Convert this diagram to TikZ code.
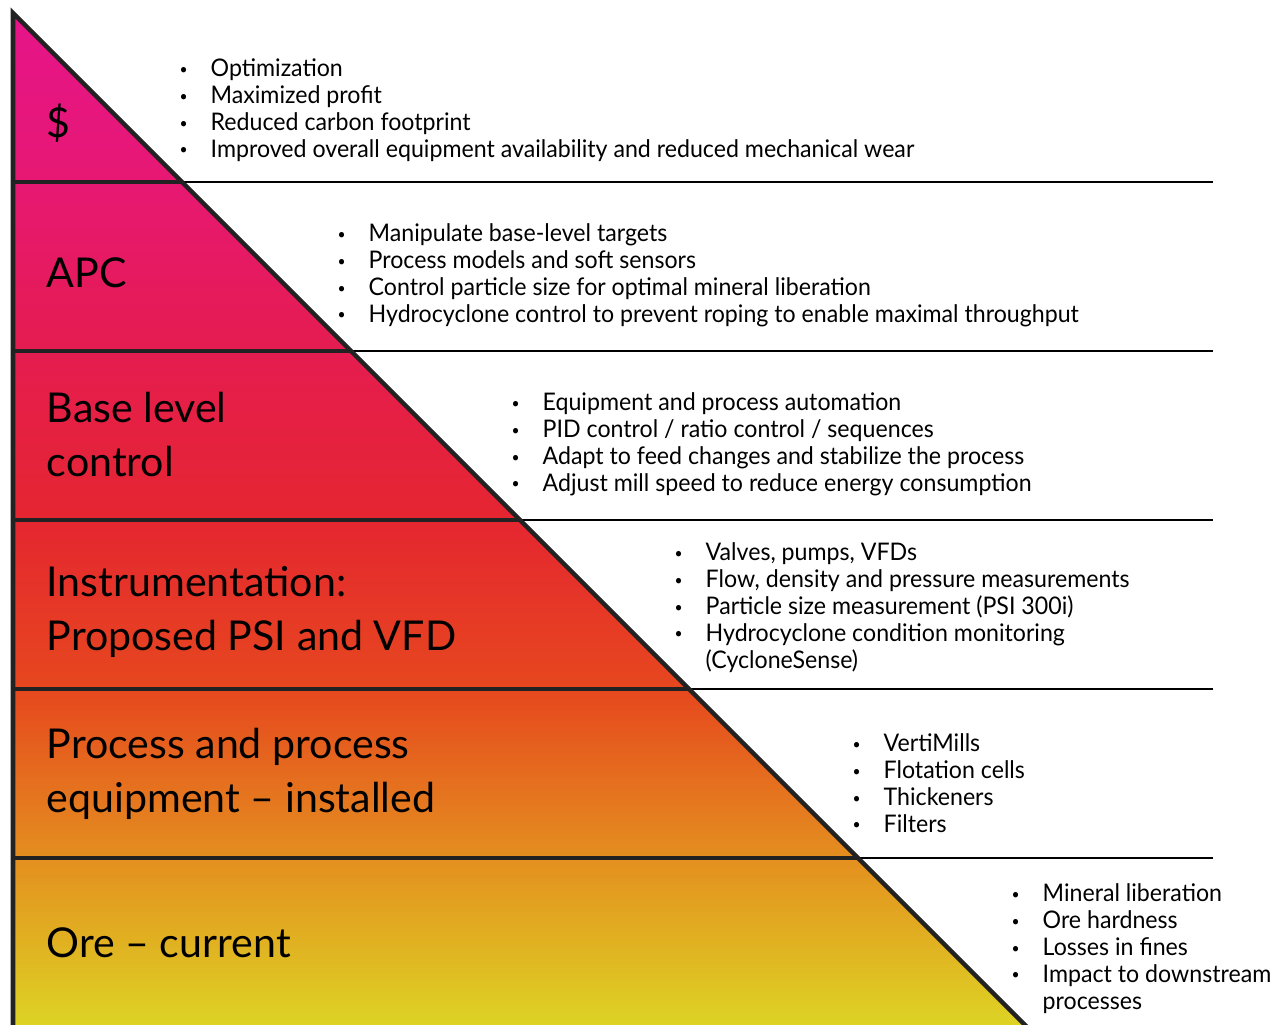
\documentclass[tikz,border=0pt]{standalone}
\usepackage{fontspec}
\setmainfont{Lato}
\newfontfamily\factfont[FakeStretch=0.955]{Lato}
\definecolor{pyrA}{HTML}{DDD324}
\definecolor{pyrB}{HTML}{E4901F}
\definecolor{pyrC}{HTML}{E6481E}
\definecolor{pyrD}{HTML}{E52630}
\definecolor{pyrE}{HTML}{E51C50}
\definecolor{pyrF}{HTML}{E61873}
\definecolor{pyrG}{HTML}{E6148A}
\definecolor{rimgray}{HTML}{222222}
% tikz fits the middle 25bp--75bp of the shading to the path
\pgfdeclareverticalshading{pyramid}{100bp}{color(0bp)=(pyrA); color(25bp)=(pyrA);
  color(33.15bp)=(pyrB); color(41.55bp)=(pyrC); color(49.95bp)=(pyrD); color(58.35bp)=(pyrE);
  color(66.75bp)=(pyrF); color(75bp)=(pyrG); color(100bp)=(pyrG)}
\newcommand{\rows}[1]{\begin{tabular}[t]{@{}l@{}}#1\end{tabular}}
\newcommand{\itm}{\llap{\makebox[5.4mm][c]{\raisebox{0.1em}{\scalebox{0.6}{\textbullet}}}}}
\tikzset{
  tier/.style={anchor=base west,inner sep=0pt,font=\fontsize{11.7}{15.1}\selectfont},
  facts/.style={anchor=base west,inner sep=0pt,font=\factfont\fontsize{6.9}{7.62}\selectfont},
  rim/.style={draw=rimgray,line width=1.3pt,line join=miter},
  split/.style={draw=rimgray,line width=1.1pt},
  rule/.style={draw=black,line width=0.6pt}
}

\begin{document}
\begin{tikzpicture}[x=0.1mm,y=-0.1mm]
  \useasboundingbox (0,0) rectangle (1271,1025);
  \clip (0,0) rectangle (1271,1025);
  \coordinate (apex) at (13,13);
  \coordinate (heel) at (13,1040);
  \coordinate (toe) at (1040,1040);
  \shade[shading=pyramid] (13,13) -- (13,1025) -- (1025,1025) -- cycle;
  \foreach \y/\n in {182/1,351/2,520/3,689/4,858/5}{
    \coordinate (l\n) at (13,\y);
    \coordinate (m\n) at (\y,\y);
    \coordinate (r\n) at (1213,\y);
    \draw[split] (l\n) -- (m\n);
    \draw[rule] (m\n) -- (r\n);
  }
  \draw[rim] (heel) -- (apex) -- (toe);
  \node[tier] (dollar) at (46,138) {\$};
  \node[tier] (apc) at (46,288) {APC};
  \node[tier] (base) at (46,423) {\rows{Base level\\control}};
  \node[tier] (instr) at (46,597) {\rows{Instrumentation:\\Proposed PSI and VFD}};
  \node[tier] (equip) at (46,759) {\rows{Process and process\\equipment – installed}};
  \node[tier] (ore) at (46,958) {Ore – current};
  \node[facts] (dollarList) at (210,77) {\rows{\itm Optimization\\\itm Maximized profit\\
    \itm Reduced carbon footprint\\\itm Improved overall equipment availability and reduced mechanical wear}};
  \node[facts] (apcList) at (368,242) {\rows{\itm Manipulate base-level targets\\
    \itm Process models and soft sensors\\\itm Control particle size for optimal mineral liberation\\
    \itm Hydrocyclone control to prevent roping to enable maximal throughput}};
  \node[facts] (baseList) at (542,411) {\rows{\itm Equipment and process automation\\
    \itm PID control / ratio control / sequences\\\itm Adapt to feed changes and stabilize the process\\
    \itm Adjust mill speed to reduce energy consumption}};
  \node[facts] (instrList) at (705,561) {\rows{\itm Valves, pumps, VFDs\\
    \itm Flow, density and pressure measurements\\\itm Particle size measurement (PSI 300i)\\
    \itm Hydrocyclone condition monitoring\\(CycloneSense)}};
  \node[facts] (equipList) at (883,752) {\rows{\itm VertiMills\\\itm Flotation cells\\
    \itm Thickeners\\\itm Filters}};
  \node[facts] (oreList) at (1042,902) {\rows{\itm Mineral liberation\\\itm Ore hardness\\
    \itm Losses in fines\\\itm Impact to downstream\\processes}};
\end{tikzpicture}
\end{document}
